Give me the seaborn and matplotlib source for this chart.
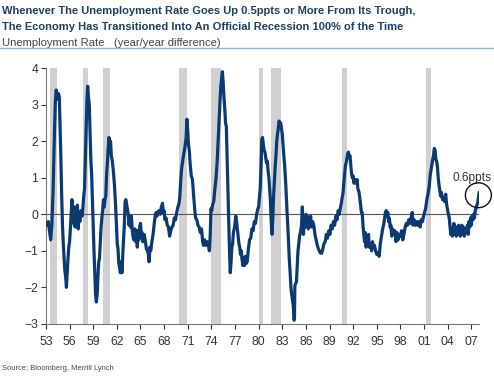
import matplotlib
matplotlib.use("Agg")
import matplotlib.pyplot as plt
from matplotlib.patches import Ellipse
from matplotlib.lines import Line2D
import seaborn as sns
import pandas as pd

# unemployment rate, year/year difference (ppts)
years = [
    1953.00, 1953.15, 1953.30, 1953.45, 1953.60, 1953.75, 1953.90, 1954.00, 1954.10, 1954.20,
    1954.30, 1954.40, 1954.50, 1954.60, 1954.70, 1954.80, 1954.90, 1955.00, 1955.10, 1955.20,
    1955.30, 1955.40, 1955.50, 1955.60, 1955.70, 1955.80, 1955.90, 1956.00, 1956.10, 1956.20,
    1956.30, 1956.40, 1956.50, 1956.60, 1956.70, 1956.80, 1956.90, 1957.00, 1957.10, 1957.20,
    1957.30, 1957.45, 1957.60, 1957.70, 1957.80, 1957.90, 1958.00, 1958.10, 1958.20, 1958.30,
    1958.40, 1958.50, 1958.60, 1958.70, 1958.80, 1958.90, 1959.00, 1959.10, 1959.20, 1959.30,
    1959.40, 1959.50, 1959.60, 1959.70, 1959.80, 1959.90, 1960.00, 1960.10, 1960.20, 1960.30,
    1960.40, 1960.50, 1960.60, 1960.70, 1960.80, 1960.90, 1961.00, 1961.10, 1961.20, 1961.30,
    1961.40, 1961.55, 1961.70, 1961.85, 1961.95, 1962.05, 1962.15, 1962.25, 1962.35, 1962.45,
    1962.55, 1962.65, 1962.80, 1962.95, 1963.05, 1963.15, 1963.30, 1963.45, 1963.55, 1963.65,
    1963.75, 1963.85, 1963.95, 1964.05, 1964.15, 1964.30, 1964.40, 1964.50, 1964.60, 1964.70,
    1964.80, 1964.90, 1965.00, 1965.10, 1965.20, 1965.30, 1965.45, 1965.60, 1965.75, 1965.90,
    1966.00, 1966.10, 1966.20, 1966.30, 1966.45, 1966.60, 1966.75, 1966.90, 1967.00, 1967.10,
    1967.20, 1967.35, 1967.50, 1967.65, 1967.80, 1967.90, 1968.00, 1968.10, 1968.25, 1968.40,
    1968.55, 1968.70, 1968.85, 1969.00, 1969.15, 1969.30, 1969.45, 1969.60, 1969.75, 1969.90,
    1970.00, 1970.10, 1970.20, 1970.35, 1970.50, 1970.65, 1970.80, 1970.90, 1971.00, 1971.10,
    1971.20, 1971.30, 1971.45, 1971.60, 1971.75, 1971.90, 1972.00, 1972.15, 1972.30, 1972.45,
    1972.60, 1972.75, 1972.90, 1973.00, 1973.15, 1973.30, 1973.45, 1973.60, 1973.75, 1973.85,
    1973.95, 1974.05, 1974.15, 1974.30, 1974.45, 1974.60, 1974.75, 1974.90, 1975.00, 1975.10,
    1975.20, 1975.30, 1975.40, 1975.50, 1975.60, 1975.70, 1975.80, 1975.90, 1976.00, 1976.10,
    1976.20, 1976.30, 1976.40, 1976.50, 1976.60, 1976.70, 1976.80, 1976.95, 1977.10, 1977.20,
    1977.30, 1977.40, 1977.50, 1977.60, 1977.70, 1977.80, 1977.90, 1978.00, 1978.10, 1978.20,
    1978.30, 1978.40, 1978.55, 1978.70, 1978.85, 1979.00, 1979.15, 1979.30, 1979.45, 1979.60,
    1979.75, 1979.90, 1980.00, 1980.10, 1980.20, 1980.30, 1980.40, 1980.50, 1980.60, 1980.70,
    1980.80, 1980.90, 1981.00, 1981.10, 1981.20, 1981.30, 1981.40, 1981.50, 1981.60, 1981.70,
    1981.80, 1981.90, 1982.00, 1982.10, 1982.20, 1982.30, 1982.40, 1982.50, 1982.60, 1982.70,
    1982.80, 1982.90, 1983.00, 1983.10, 1983.20, 1983.30, 1983.45, 1983.60, 1983.70, 1983.80,
    1983.90, 1984.00, 1984.10, 1984.20, 1984.30, 1984.40, 1984.50, 1984.55, 1984.60, 1984.70,
    1984.80, 1984.90, 1985.00, 1985.10, 1985.20, 1985.35, 1985.45, 1985.55, 1985.60, 1985.70,
    1985.80, 1985.90, 1986.00, 1986.10, 1986.20, 1986.30, 1986.40, 1986.50, 1986.60, 1986.70,
    1986.85, 1987.00, 1987.15, 1987.30, 1987.45, 1987.60, 1987.80, 1988.00, 1988.15, 1988.30,
    1988.45, 1988.60, 1988.75, 1988.90, 1989.05, 1989.20, 1989.35, 1989.50, 1989.65, 1989.80,
    1989.95, 1990.10, 1990.25, 1990.40, 1990.50, 1990.60, 1990.70, 1990.80, 1990.90, 1991.00,
    1991.15, 1991.30, 1991.40, 1991.50, 1991.60, 1991.70, 1991.80, 1991.90, 1992.00, 1992.10,
    1992.20, 1992.35, 1992.50, 1992.60, 1992.75, 1992.90, 1993.05, 1993.15, 1993.25, 1993.35,
    1993.45, 1993.55, 1993.65, 1993.75, 1993.85, 1993.95, 1994.05, 1994.20, 1994.35, 1994.45,
    1994.55, 1994.70, 1994.85, 1995.00, 1995.15, 1995.30, 1995.45, 1995.60, 1995.75, 1995.90,
    1996.00, 1996.10, 1996.20, 1996.30, 1996.40, 1996.50, 1996.60, 1996.70, 1996.80, 1996.90,
    1997.00, 1997.15, 1997.30, 1997.45, 1997.55, 1997.70, 1997.85, 1998.00, 1998.15, 1998.30,
    1998.45, 1998.60, 1998.75, 1998.90, 1999.05, 1999.20, 1999.35, 1999.50, 1999.60, 1999.75,
    1999.90, 2000.05, 2000.20, 2000.35, 2000.50, 2000.65, 2000.80, 2000.95, 2001.05, 2001.20,
    2001.35, 2001.50, 2001.65, 2001.80, 2001.95, 2002.10, 2002.20, 2002.30, 2002.40, 2002.50,
    2002.60, 2002.70, 2002.80, 2002.90, 2003.00, 2003.10, 2003.20, 2003.35, 2003.50, 2003.60,
    2003.75, 2003.85, 2004.00, 2004.10, 2004.20, 2004.30, 2004.40, 2004.50, 2004.60, 2004.70,
    2004.80, 2004.90, 2005.00, 2005.10, 2005.20, 2005.30, 2005.40, 2005.50, 2005.60, 2005.70,
    2005.80, 2005.90, 2006.00, 2006.10, 2006.20, 2006.30, 2006.40, 2006.50, 2006.60, 2006.70,
    2006.80, 2006.90, 2007.00, 2007.10, 2007.20, 2007.30, 2007.40, 2007.50, 2007.60, 2007.70,
    2007.80, 2007.90, 2008.00,
]
yoy = [
    -0.25, -0.30, -0.20, -0.45, -0.70, -0.30, 0.60, 1.50, 2.40, 3.10,
    3.40, 3.30, 3.15, 3.30, 3.20, 2.40, 1.50, 0.50, -0.30, -0.80,
    -1.20, -1.55, -1.70, -2.00, -1.60, -1.20, -0.90, -0.75, -0.40, 0.00,
    0.40, 0.10, -0.25, 0.20, -0.35, 0.10, -0.10, 0.25, -0.40, 0.00,
    -0.20, 0.10, -0.05, 0.20, 0.50, 0.70, 1.50, 2.40, 3.10, 3.50,
    3.20, 3.00, 2.20, 1.50, 1.10, 0.40, -0.30, -1.00, -1.60, -2.20,
    -2.40, -2.20, -1.70, -1.30, -1.20, -0.80, -0.35, -0.10, 0.10, 0.40,
    0.20, 0.40, 0.50, 1.10, 1.40, 1.80, 2.10, 1.90, 2.00, 1.60,
    1.50, 1.20, 0.80, 0.20, -0.30, -0.80, -0.95, -1.35, -1.45, -1.60,
    -1.30, -1.60, -0.90, -0.30, 0.35, 0.40, 0.20, 0.00, -0.30, -0.10,
    -0.35, -0.05, -0.40, -0.60, -0.70, -0.40, -0.75, -0.45, -0.90, -0.45,
    -0.70, -0.35, -0.25, -0.55, -0.50, -0.75, -0.55, -0.70, -0.95, -1.00,
    -1.10, -1.30, -0.90, -1.00, -0.75, -0.55, -0.25, 0.00, 0.05, -0.05,
    0.05, 0.10, 0.00, 0.20, 0.30, 0.05, 0.10, -0.15, -0.10, -0.30,
    -0.35, -0.60, -0.45, -0.35, -0.30, -0.10, -0.15, 0.05, 0.20, 0.30,
    0.50, 0.90, 1.20, 1.45, 1.65, 1.85, 2.10, 2.60, 2.30, 1.90,
    1.75, 1.40, 1.05, 0.95, 0.50, 0.10, -0.10, -0.15, -0.30, -0.35,
    -0.50, -0.40, -0.75, -0.85, -0.70, -0.85, -0.75, -0.80, -1.00, -0.60,
    0.15, 0.10, 0.25, 0.35, 0.70, 1.00, 1.50, 2.20, 2.70, 3.10,
    3.50, 3.70, 3.90, 3.60, 3.20, 2.90, 2.50, 2.40, 1.60, 0.70,
    -0.20, -1.00, -1.60, -1.30, -0.90, -0.80, -0.50, -0.35, -0.05, -0.20,
    -0.40, -0.60, -0.80, -0.90, -1.10, -1.00, -1.25, -1.40, -1.20, -1.40,
    -1.15, -1.35, -1.30, -0.95, -0.70, -0.65, -0.40, -0.45, -0.20, -0.25,
    0.00, 0.15, 0.20, 0.45, 0.70, 1.30, 2.05, 2.10, 1.90, 1.75,
    1.70, 1.55, 1.40, 1.45, 1.20, 1.00, 0.70, 0.35, -0.20, -0.55,
    -0.10, 0.50, 0.90, 1.30, 1.60, 2.00, 2.20, 2.35, 2.55, 2.45,
    2.50, 2.35, 2.20, 1.90, 1.60, 1.35, 0.80, 0.10, -0.30, -0.80,
    -1.25, -1.60, -2.00, -2.20, -2.35, -2.50, -2.90, -2.85, -1.95, -1.90,
    -1.85, -1.40, -1.00, -0.80, -0.60, -0.45, -0.30, 0.20, -0.20, -0.55,
    -0.10, -0.35, 0.00, -0.30, -0.05, -0.40, -0.10, -0.30, -0.05, -0.35,
    -0.20, -0.30, -0.55, -0.70, -0.85, -0.95, -1.05, -1.07, -0.95, -0.80,
    -0.75, -0.55, -0.65, -0.45, -0.55, -0.30, -0.40, -0.20, -0.30, -0.05,
    -0.15, 0.10, 0.00, 0.20, 0.30, 0.45, 0.55, 0.80, 1.05, 1.30,
    1.45, 1.65, 1.70, 1.55, 1.60, 1.35, 1.10, 1.00, 1.05, 0.85,
    0.95, 0.85, 0.95, 0.70, 0.60, 0.35, 0.05, 0.05, -0.30, -0.55,
    -0.75, -0.50, -0.90, -0.60, -0.85, -0.55, -0.90, -0.80, -1.00, -0.75,
    -0.90, -0.85, -1.00, -1.10, -1.05, -1.15, -0.80, -0.60, -0.40, -0.25,
    -0.10, 0.05, 0.10, -0.05, 0.05, -0.20, -0.10, -0.35, -0.30, -0.60,
    -0.40, -0.55, -0.45, -0.75, -0.50, -0.70, -0.55, -0.60, -0.45, -0.70,
    -0.55, -0.35, -0.25, -0.30, -0.15, -0.25, -0.10, 0.05, -0.30, -0.15,
    -0.30, -0.20, -0.30, -0.20, -0.35, -0.15, -0.20, -0.05, 0.05, 0.15,
    0.40, 0.55, 0.75, 1.10, 1.30, 1.50, 1.60, 1.80, 1.75, 1.50,
    1.45, 1.30, 1.00, 0.80, 0.65, 0.50, 0.60, 0.40, 0.45, 0.35,
    0.55, 0.30, 0.10, 0.00, -0.10, -0.35, -0.55, -0.40, -0.60, -0.35,
    -0.25, -0.55, -0.35, -0.60, -0.35, -0.55, -0.30, -0.45, -0.60, -0.40,
    -0.30, -0.55, -0.35, -0.60, -0.45, -0.40, -0.50, -0.30, -0.55, -0.20,
    -0.35, -0.10, -0.30, -0.05, -0.15, 0.00, -0.10, 0.10, 0.15, 0.25,
    0.30, 0.45, 0.60,
]

# NBER recessions (decimal years)
rec_start = [1953.55, 1957.65, 1960.30, 1969.95, 1973.90, 1980.00, 1981.55, 1990.55, 2001.20]
rec_end = [1954.40, 1958.30, 1961.10, 1970.90, 1975.20, 1980.55, 1982.90, 1991.20, 2001.90]

tick_years = list(range(1953, 2008, 3))
tick_labels = [str(y)[2:] for y in tick_years]

sns.set_theme(style="ticks")
plt.rcParams['font.family'] = ['Liberation Sans', 'DejaVu Sans']

df = pd.DataFrame({"year": years, "yoy": yoy})

fig = plt.figure(figsize=(4.94, 3.78), dpi=100)
ax = fig.add_axes([0.093, 0.143, 0.877, 0.677])

for s, e in zip(rec_start, rec_end):
    ax.axvspan(s, e, color="#d0d0d0", lw=0, zorder=0)

ax.axhline(0, color="#555555", lw=0.8, zorder=1)
sns.lineplot(data=df, x="year", y="yoy", ax=ax, color="#0b3a72", lw=2.3, zorder=3)

ax.set_xlim(1953, 2008.0)
ax.set_ylim(-3, 4)
ax.set_xticks(tick_years)
ax.set_xticklabels(tick_labels)
ax.set_yticks(range(-3, 5))
ax.set_xlabel("")
ax.set_ylabel("")
ax.tick_params(axis="both", labelsize=8.7, colors="#333333", length=3.5, width=0.8, pad=2)
ax.tick_params(axis="x", pad=5)
for side in ["top", "right"]:
    ax.spines[side].set_visible(False)
for side in ["left", "bottom"]:
    ax.spines[side].set_color("#777777")
    ax.spines[side].set_linewidth(0.8)

# circled last reading
ax.add_patch(Ellipse((2007.9, 0.52), 3.3, 0.68, fill=False, ec="#111111", lw=1.0,
                     clip_on=False, zorder=4))
ax.text(2007.1, 1.0, "0.6ppts", ha="center", va="center", fontsize=8.6, color="#333333")

fig.text(0.004, 0.972, "Whenever The Unemployment Rate Goes Up 0.5ppts or More From Its Trough,",
         fontsize=8.0, fontweight="bold", color="#1d3f66", va="center")
fig.text(0.004, 0.928, "The Economy Has Transitioned Into An Official Recession 100% of the Time",
         fontsize=8.0, fontweight="bold", color="#1d3f66", va="center")
fig.text(0.004, 0.886, "Unemployment Rate   (year/year difference)",
         fontsize=8.1, color="#444444", va="center")
fig.add_artist(Line2D([0.0, 1.0], [0.872, 0.872], transform=fig.transFigure,
                      color="#7fbfd0", lw=1.0))
fig.text(0.004, 0.015, "Source: Bloomberg, Merrill Lynch", fontsize=5.4, color="#444444", va="bottom")

fig.savefig("out.png", dpi=100)
